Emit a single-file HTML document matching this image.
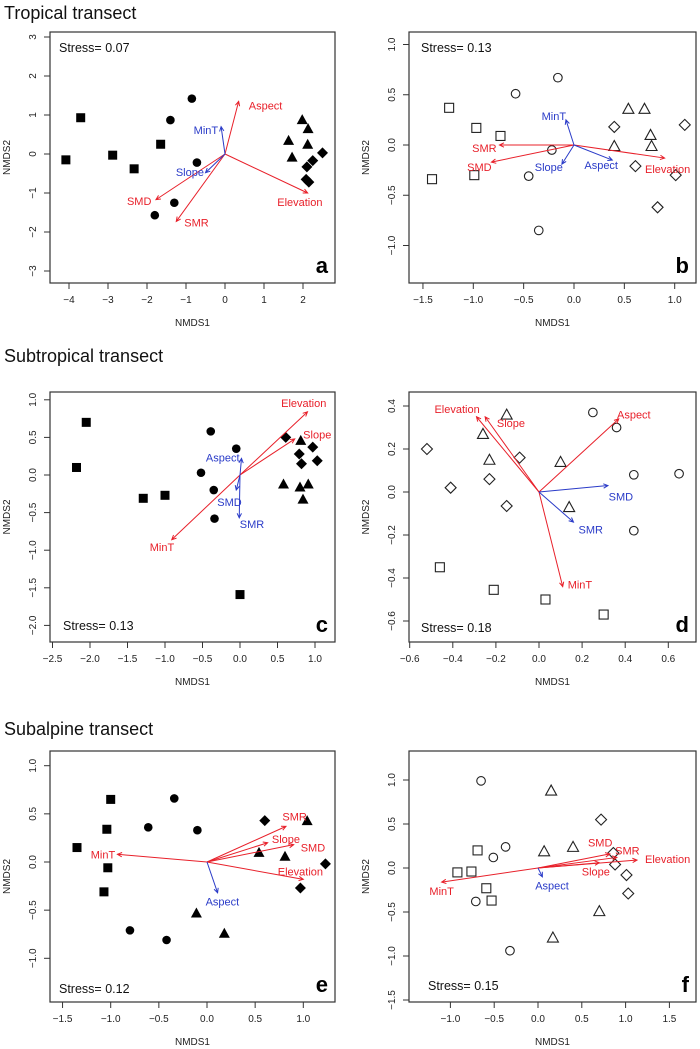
<!DOCTYPE html>
<html><head><meta charset="utf-8"><style>
body{margin:0;background:#fff;}
svg{display:block;font-family:"Liberation Sans",sans-serif;}
</style></head><body>
<svg id="fig" width="700" height="1049" viewBox="0 0 700 1049">
<text x="4" y="19" font-size="18" fill="#111">Tropical transect</text>
<text x="4" y="362" font-size="18" fill="#111">Subtropical transect</text>
<text x="4" y="735" font-size="18" fill="#111">Subalpine transect</text>
</svg>
<script>
// Panel a
const aSquares=[[-4.08,-0.15],[-3.7,0.93],[-2.88,-0.03],[-2.33,-0.38],[-1.65,0.25]];
const aCircles=[[-0.85,1.42],[-1.4,0.87],[-0.72,-0.22],[-1.3,-1.25],[-1.8,-1.57]];
const aTriangles=[[1.98,0.88],[2.13,0.65],[1.63,0.35],[2.12,0.25],[1.72,-0.08]];
const aDiamonds=[[2.5,0.03],[2.25,-0.17],[2.1,-0.33],[2.08,-0.65],[2.15,-0.72]];
const aVectors=[["Aspect",0.35,1.35,"r",1.04,1.24],["Elevation",2.12,-1.0,"r",1.92,-1.23],["SMD",-1.77,-1.17,"r",-2.2,-1.21],["SMR",-1.25,-1.73,"r",-0.73,-1.75],["MinT",-0.1,0.7,"b",-0.49,0.61],["Slope",-0.5,-0.48,"b",-0.9,-0.46]];
const aXTicks=[-4,-3,-2,-1,0,1,2];
const aYTicks=[-3,-2,-1,0,1,2,3];
// Panel b
const bSquares=[[-1.24,0.37],[-0.97,0.17],[-0.73,0.09],[-1.41,-0.34],[-0.99,-0.3]];
const bCircles=[[-0.16,0.67],[-0.58,0.51],[-0.22,-0.05],[-0.45,-0.31],[-0.35,-0.85]];
const bTriangles=[[0.54,0.36],[0.7,0.36],[0.76,0.1],[0.4,-0.01],[0.77,-0.01]];
const bDiamonds=[[0.4,0.18],[1.1,0.2],[0.61,-0.21],[1.01,-0.3],[0.83,-0.62]];
const bVectors=[["SMR",-0.74,0.0,"r",-0.89,-0.03],["SMD",-0.82,-0.17,"r",-0.94,-0.22],["Elevation",0.9,-0.13,"r",0.93,-0.24],["MinT",-0.08,0.25,"b",-0.2,0.29],["Slope",-0.12,-0.19,"b",-0.25,-0.22],["Aspect",0.38,-0.15,"b",0.27,-0.2]];
const bXTicks=[-1.5,-1.0,-0.5,0.0,0.5,1.0];
const bYTicks=[-1.0,-0.5,0.0,0.5,1.0];
// Panel c
const cSquares=[[-2.05,0.7],[-2.18,0.1],[-1.29,-0.31],[-1.0,-0.27],[0.0,-1.59]];
const cCircles=[[-0.39,0.58],[-0.05,0.35],[-0.52,0.03],[-0.35,-0.2],[-0.34,-0.58]];
const cTriangles=[[0.81,0.46],[0.58,-0.12],[0.8,-0.16],[0.91,-0.12],[0.84,-0.32]];
const cDiamonds=[[0.61,0.5],[0.97,0.37],[0.79,0.28],[0.82,0.15],[1.03,0.19]];
const cVectors=[["Elevation",0.9,0.84,"r",0.85,0.96],["Slope",0.73,0.48,"r",1.03,0.54],["MinT",-0.91,-0.86,"r",-1.04,-0.96],["Aspect",0.02,0.22,"b",-0.23,0.23],["SMD",-0.05,-0.2,"b",-0.14,-0.36],["SMR",-0.01,-0.57,"b",0.16,-0.65]];
const cXTicks=[-2.5,-2.0,-1.5,-1.0,-0.5,0.0,0.5,1.0];
const cYTicks=[-2.0,-1.5,-1.0,-0.5,0.0,0.5,1.0];
// Panel d
const dSquares=[[-0.46,-0.35],[-0.21,-0.455],[0.03,-0.5],[0.3,-0.57]];
const dCircles=[[0.25,0.37],[0.36,0.3],[0.44,0.08],[0.65,0.085],[0.44,-0.18]];
const dTriangles=[[-0.15,0.36],[-0.26,0.27],[-0.23,0.15],[0.1,0.14],[0.14,-0.07]];
const dDiamonds=[[-0.52,0.2],[-0.41,0.02],[-0.23,0.06],[-0.09,0.16],[-0.15,-0.065]];
const dVectors=[["Elevation",-0.29,0.35,"r",-0.38,0.385],["Slope",-0.25,0.35,"r",-0.13,0.32],["Aspect",0.37,0.34,"r",0.44,0.36],["MinT",0.11,-0.44,"r",0.19,-0.43],["SMD",0.32,0.03,"b",0.38,-0.02],["SMR",0.16,-0.14,"b",0.24,-0.175]];
const dXTicks=[-0.6,-0.4,-0.2,0.0,0.2,0.4,0.6];
const dYTicks=[-0.6,-0.4,-0.2,0.0,0.2,0.4];
// Panel e
const eSquares=[[-1.0,0.65],[-1.04,0.34],[-1.35,0.15],[-1.03,-0.06],[-1.07,-0.31]];
const eCircles=[[-0.34,0.66],[-0.61,0.36],[-0.1,0.33],[-0.8,-0.71],[-0.42,-0.81]];
const eTriangles=[[1.04,0.43],[0.54,0.1],[0.81,0.06],[-0.11,-0.53],[0.18,-0.74]];
const eDiamonds=[[0.6,0.43],[1.23,-0.02],[0.97,-0.27]];
const eVectors=[["SMR",0.82,0.37,"r",0.91,0.47],["Slope",0.63,0.2,"r",0.82,0.24],["SMD",0.9,0.18,"r",1.1,0.15],["Elevation",1.0,-0.18,"r",0.97,-0.1],["MinT",-0.93,0.08,"r",-1.08,0.08],["Aspect",0.11,-0.32,"b",0.16,-0.41]];
const eXTicks=[-1.5,-1.0,-0.5,0.0,0.5,1.0];
const eYTicks=[-1.0,-0.5,0.0,0.5,1.0];
// Panel f
const fSquares=[[-0.69,0.2],[-0.92,-0.05],[-0.76,-0.04],[-0.59,-0.23],[-0.53,-0.37]];
const fCircles=[[-0.65,0.99],[-0.37,0.24],[-0.51,0.12],[-0.71,-0.38],[-0.32,-0.94]];
const fTriangles=[[0.15,0.88],[0.07,0.19],[0.4,0.24],[0.7,-0.49],[0.17,-0.79]];
const fDiamonds=[[0.72,0.55],[0.86,0.17],[0.88,0.04],[1.01,-0.08],[1.03,-0.29]];
const fVectors=[["Elevation",1.13,0.09,"r",1.48,0.1],["SMR",0.9,0.12,"r",1.02,0.2],["SMD",0.82,0.16,"r",0.71,0.29],["Slope",0.7,0.06,"r",0.66,-0.04],["MinT",-1.1,-0.16,"r",-1.1,-0.26],["Aspect",0.05,-0.1,"b",0.16,-0.2]];
const fXTicks=[-1.0,-0.5,0.0,0.5,1.0,1.5];
const fYTicks=[-1.5,-1.0,-0.5,0.0,0.5,1.0];

const NS="http://www.w3.org/2000/svg";
const svg=document.getElementById('fig');
function mk(tag,attrs,parent,txt){const e=document.createElementNS(NS,tag);for(const k in attrs)e.setAttribute(k,attrs[k]);if(txt!==undefined)e.textContent=txt;parent.appendChild(e);return e;}
function fmt(v,dec){return (v<0?"\u2212":"")+Math.abs(v).toFixed(dec);}

function panel(id,box,xs,ys,sq,ci,tr,di,vec,xt,yt,dec,filled,stress,stressPos){
  const g=mk('g',{},svg);
  
  
  const X=v=>xs[0]+v*xs[1], Y=v=>ys[0]-v*ys[1];
  const frame=mk('rect',{x:box[0],y:box[1],width:box[2]-box[0],height:box[3]-box[1],fill:'none',stroke:'#333','stroke-width':1.2},g);
  
  
  xt.forEach(t=>{const x=X(t);
    const l=mk('line',{x1:x,x2:x,y1:box[3],y2:box[3]+6,stroke:'#333'},g);
     
    const tx=mk('text',{x:x,y:box[3]+20,'font-size':10,'text-anchor':'middle',fill:'#222'},g,fmt(t,dec[0]));
     });
  yt.forEach(t=>{const y=Y(t);
    const l=mk('line',{x1:box[0]-6,x2:box[0],y1:y,y2:y,stroke:'#333'},g);
     
    const xx=box[0]-14;
    const tx=mk('text',{x:xx,y:y,'font-size':10,'text-anchor':'middle',fill:'#222',transform:`rotate(-90 ${xx} ${y})`},g,fmt(t,dec[1]));
     });
  const cx=(box[0]+box[2])/2, cy=(box[1]+box[3])/2;
  const xl=mk('text',{x:cx,y:box[3]+43,'font-size':10,'text-anchor':'middle',fill:'#222'},g,'NMDS1');
   
  const yx=box[0]-40;
  const yl=mk('text',{x:yx,y:cy,'font-size':10,'text-anchor':'middle',fill:'#222',transform:`rotate(-90 ${yx} ${cy})`},g,'NMDS2');
   
  const fill=filled?'#000':'#fff', sw=filled?0:1.1;
  sq.forEach(p=>{const e=mk('rect',{x:X(p[0])-4.5,y:Y(p[1])-4.5,width:9,height:9,fill:fill,stroke:'#222','stroke-width':sw},g);
     });
  ci.forEach(p=>{const e=mk('circle',{cx:X(p[0]),cy:Y(p[1]),r:4.3,fill:fill,stroke:'#222','stroke-width':sw},g);
     });
  tr.forEach(p=>{const x=X(p[0]),y=Y(p[1]);const e=mk('polygon',{points:`${x},${y-5.5} ${x-5.5},${y+4.5} ${x+5.5},${y+4.5}`,fill:fill,stroke:'#222','stroke-width':sw},g);
     });
  di.forEach(p=>{const x=X(p[0]),y=Y(p[1]);const e=mk('polygon',{points:`${x},${y-5.5} ${x+5.5},${y} ${x},${y+5.5} ${x-5.5},${y}`,fill:fill,stroke:'#222','stroke-width':sw},g);
     });
  vec.forEach(v=>{const col=v[3]==='r'?'#e8202a':'#2a3bc8';
    const x0=X(0),y0=Y(0),x1=X(v[1]),y1=Y(v[2]);
    const a=Math.atan2(y1-y0,x1-x0),h=5;
    const path=`M${x0},${y0}L${x1},${y1}M${x1-h*Math.cos(a-0.45)},${y1-h*Math.sin(a-0.45)}L${x1},${y1}L${x1-h*Math.cos(a+0.45)},${y1-h*Math.sin(a+0.45)}`;
    const e=mk('path',{d:path,stroke:col,'stroke-width':1,fill:'none'},g);
     
    const t=mk('text',{x:X(v[4]),y:Y(v[5])+4,'font-size':11,'text-anchor':'middle',fill:col},g,v[0]);
     });
  const s=mk('text',{x:stressPos[0],y:stressPos[1]+4,'font-size':12.5,fill:'#111'},g,'Stress= '+stress);
   
  const L=mk('text',{x:box[2]-7,y:box[3]-10,'font-size':22,'font-weight':'bold','text-anchor':'end',fill:'#000'},g,id);
   
}
panel('a',[50,32,335,283],[225,39],[154,39],aSquares,aCircles,aTriangles,aDiamonds,aVectors,aXTicks,aYTicks,[0,0],true,'0.07',[59,48]);
panel('b',[409,32,696,283],[574,100.7],[145,100.5],bSquares,bCircles,bTriangles,bDiamonds,bVectors,bXTicks,bYTicks,[1,1],false,'0.13',[421,48]);
panel('c',[50,392,335,642],[240,75],[475,75.2],cSquares,cCircles,cTriangles,cDiamonds,cVectors,cXTicks,cYTicks,[1,1],true,'0.13',[63,626]);
panel('d',[409,392,696,642],[539,215.5],[492,215],dSquares,dCircles,dTriangles,dDiamonds,dVectors,dXTicks,dYTicks,[1,1],false,'0.18',[421,628]);
panel('e',[50,751,335,1002],[207,96.3],[862,96.3],eSquares,eCircles,eTriangles,eDiamonds,eVectors,eXTicks,eYTicks,[1,1],true,'0.12',[59,989]);
panel('f',[409,751,696,1002],[538,87.6],[868,88],fSquares,fCircles,fTriangles,fDiamonds,fVectors,fXTicks,fYTicks,[1,1],false,'0.15',[428,986]);
</script>
</body></html>
